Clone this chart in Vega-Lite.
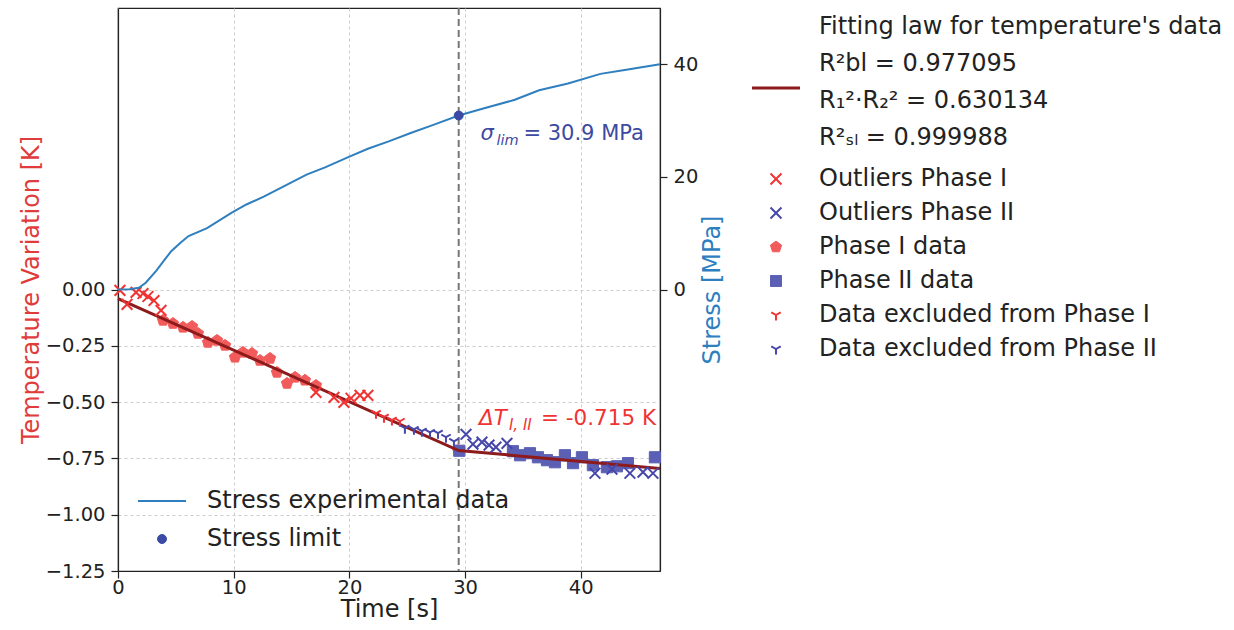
{
  "$schema": "https://vega.github.io/schema/vega-lite/v6.json",
  "width": 542,
  "height": 563,
  "autosize": {"type": "none"},
  "padding": {"left": 118, "top": 8, "right": 574, "bottom": 59},
  "background": "white",
  "config": {
    "font": "DejaVu Sans",
    "view": {"stroke": "#222222", "strokeWidth": 1.2},
    "axis": {
      "labelFont": "DejaVu Sans", "titleFont": "DejaVu Sans",
      "labelFontSize": 19.5, "titleFontSize": 24, "titleFontWeight": "normal",
      "labelColor": "#222222", "tickColor": "#222222", "domainColor": "#222222",
      "tickSize": 7, "tickWidth": 1.2, "domainWidth": 1.2,
      "grid": true, "gridColor": "#cccccc", "gridDash": [3, 3], "gridWidth": 1,
      "labelPadding": 6, "labelFlush": false
    },
    "legend": {"labelFont": "DejaVu Sans", "labelFontSize": 24, "labelColor": "#222222", "padding": 0}
  },
  "datasets": {
    "stress": [
      {"t": 0, "s": 0, "g": "Stress experimental data"},
      {"t": 1.0, "s": 0.05, "g": "Stress experimental data"},
      {"t": 1.8, "s": 0.3, "g": "Stress experimental data"},
      {"t": 2.4, "s": 1.2, "g": "Stress experimental data"},
      {"t": 3.3, "s": 3.3, "g": "Stress experimental data"},
      {"t": 4.0, "s": 5.2, "g": "Stress experimental data"},
      {"t": 4.6, "s": 6.8, "g": "Stress experimental data"},
      {"t": 5.4, "s": 8.3, "g": "Stress experimental data"},
      {"t": 6.1, "s": 9.5, "g": "Stress experimental data"},
      {"t": 7.7, "s": 10.9, "g": "Stress experimental data"},
      {"t": 9.8, "s": 13.6, "g": "Stress experimental data"},
      {"t": 11.1, "s": 15.1, "g": "Stress experimental data"},
      {"t": 12.6, "s": 16.5, "g": "Stress experimental data"},
      {"t": 14.2, "s": 18.2, "g": "Stress experimental data"},
      {"t": 16.3, "s": 20.4, "g": "Stress experimental data"},
      {"t": 17.9, "s": 21.7, "g": "Stress experimental data"},
      {"t": 20.0, "s": 23.6, "g": "Stress experimental data"},
      {"t": 21.6, "s": 25.0, "g": "Stress experimental data"},
      {"t": 23.4, "s": 26.3, "g": "Stress experimental data"},
      {"t": 25.3, "s": 27.8, "g": "Stress experimental data"},
      {"t": 27.2, "s": 29.2, "g": "Stress experimental data"},
      {"t": 29.45, "s": 30.9, "g": "Stress experimental data"},
      {"t": 31.5, "s": 32.1, "g": "Stress experimental data"},
      {"t": 34.3, "s": 33.7, "g": "Stress experimental data"},
      {"t": 36.4, "s": 35.4, "g": "Stress experimental data"},
      {"t": 38.9, "s": 36.6, "g": "Stress experimental data"},
      {"t": 41.7, "s": 38.3, "g": "Stress experimental data"},
      {"t": 43.8, "s": 39.0, "g": "Stress experimental data"},
      {"t": 46.85, "s": 40.0, "g": "Stress experimental data"}
    ],
    "slimit": [{"t": 29.45, "s": 30.9, "g": "Stress limit"}],
    "vline": [{"t": 29.45}],
    "annS": [{"t": 31.33, "s": 26.6}],
    "annT": [{"t": 31.2, "T": -0.603}],
    "fit": [
      {"t": 0, "T": -0.04, "g": "Fitting law for temperature's data|\u00a0R²bl = 0.977095|\u00a0R₁²·R₂² = 0.630134|\u00a0R²ₛₗ = 0.999988"},
      {"t": 29.45, "T": -0.715, "g": "Fitting law for temperature's data|\u00a0R²bl = 0.977095|\u00a0R₁²·R₂² = 0.630134|\u00a0R²ₛₗ = 0.999988"},
      {"t": 46.85, "T": -0.795, "g": "Fitting law for temperature's data|\u00a0R²bl = 0.977095|\u00a0R₁²·R₂² = 0.630134|\u00a0R²ₛₗ = 0.999988"}
    ],
    "o1": [
      {"t": 0.17, "T": -0.004, "g": "Outliers Phase I"},
      {"t": 0.78, "T": -0.066, "g": "Outliers Phase I"},
      {"t": 1.56, "T": -0.013, "g": "Outliers Phase I"},
      {"t": 2.16, "T": -0.018, "g": "Outliers Phase I"},
      {"t": 2.59, "T": -0.031, "g": "Outliers Phase I"},
      {"t": 3.11, "T": -0.049, "g": "Outliers Phase I"},
      {"t": 3.72, "T": -0.093, "g": "Outliers Phase I"},
      {"t": 17.11, "T": -0.457, "g": "Outliers Phase I"},
      {"t": 18.67, "T": -0.479, "g": "Outliers Phase I"},
      {"t": 19.53, "T": -0.501, "g": "Outliers Phase I"},
      {"t": 20.14, "T": -0.483, "g": "Outliers Phase I"},
      {"t": 20.92, "T": -0.47, "g": "Outliers Phase I"},
      {"t": 21.6, "T": -0.47, "g": "Outliers Phase I"}
    ],
    "o2": [
      {"t": 30.08, "T": -0.643, "g": "Outliers Phase II"},
      {"t": 30.68, "T": -0.687, "g": "Outliers Phase II"},
      {"t": 31.46, "T": -0.678, "g": "Outliers Phase II"},
      {"t": 32.07, "T": -0.691, "g": "Outliers Phase II"},
      {"t": 32.67, "T": -0.7, "g": "Outliers Phase II"},
      {"t": 33.62, "T": -0.683, "g": "Outliers Phase II"},
      {"t": 41.23, "T": -0.816, "g": "Outliers Phase II"},
      {"t": 42.7, "T": -0.798, "g": "Outliers Phase II"},
      {"t": 44.25, "T": -0.816, "g": "Outliers Phase II"},
      {"t": 45.38, "T": -0.811, "g": "Outliers Phase II"},
      {"t": 46.24, "T": -0.816, "g": "Outliers Phase II"}
    ],
    "p1": [
      {"t": 3.89, "T": -0.137, "g": "Phase I data"},
      {"t": 4.75, "T": -0.151, "g": "Phase I data"},
      {"t": 5.62, "T": -0.168, "g": "Phase I data"},
      {"t": 6.4, "T": -0.164, "g": "Phase I data"},
      {"t": 6.91, "T": -0.195, "g": "Phase I data"},
      {"t": 7.78, "T": -0.235, "g": "Phase I data"},
      {"t": 8.56, "T": -0.226, "g": "Phase I data"},
      {"t": 9.25, "T": -0.248, "g": "Phase I data"},
      {"t": 10.11, "T": -0.301, "g": "Phase I data"},
      {"t": 10.8, "T": -0.279, "g": "Phase I data"},
      {"t": 11.58, "T": -0.284, "g": "Phase I data"},
      {"t": 12.27, "T": -0.315, "g": "Phase I data"},
      {"t": 13.14, "T": -0.306, "g": "Phase I data"},
      {"t": 13.74, "T": -0.368, "g": "Phase I data"},
      {"t": 14.61, "T": -0.417, "g": "Phase I data"},
      {"t": 15.3, "T": -0.39, "g": "Phase I data"},
      {"t": 16.16, "T": -0.403, "g": "Phase I data"},
      {"t": 17.11, "T": -0.426, "g": "Phase I data"},
      {"t": 29.4, "T": -0.714, "g": "Phase I data"}
    ],
    "p2": [
      {"t": 29.5, "T": -0.716, "g": "Phase II data"},
      {"t": 34.14, "T": -0.718, "g": "Phase II data"},
      {"t": 34.75, "T": -0.736, "g": "Phase II data"},
      {"t": 35.61, "T": -0.727, "g": "Phase II data"},
      {"t": 36.3, "T": -0.745, "g": "Phase II data"},
      {"t": 37.08, "T": -0.758, "g": "Phase II data"},
      {"t": 37.77, "T": -0.767, "g": "Phase II data"},
      {"t": 38.63, "T": -0.736, "g": "Phase II data"},
      {"t": 39.33, "T": -0.771, "g": "Phase II data"},
      {"t": 40.1, "T": -0.745, "g": "Phase II data"},
      {"t": 41.05, "T": -0.78, "g": "Phase II data"},
      {"t": 42.26, "T": -0.789, "g": "Phase II data"},
      {"t": 43.13, "T": -0.785, "g": "Phase II data"},
      {"t": 44.08, "T": -0.771, "g": "Phase II data"},
      {"t": 46.41, "T": -0.745, "g": "Phase II data"}
    ],
    "e1": [
      {"t": 22.3, "T": -0.55, "g": "Data excluded from Phase I"},
      {"t": 22.99, "T": -0.567, "g": "Data excluded from Phase I"},
      {"t": 23.68, "T": -0.58, "g": "Data excluded from Phase I"},
      {"t": 24.37, "T": -0.585, "g": "Data excluded from Phase I"}
    ],
    "e2": [
      {"t": 24.8, "T": -0.616, "g": "Data excluded from Phase II"},
      {"t": 25.58, "T": -0.621, "g": "Data excluded from Phase II"},
      {"t": 26.27, "T": -0.629, "g": "Data excluded from Phase II"},
      {"t": 26.97, "T": -0.634, "g": "Data excluded from Phase II"},
      {"t": 27.66, "T": -0.638, "g": "Data excluded from Phase II"},
      {"t": 28.35, "T": -0.656, "g": "Data excluded from Phase II"},
      {"t": 29.04, "T": -0.674, "g": "Data excluded from Phase II"}
    ]
  },
  "encoding": {
    "x": {
      "field": "t", "type": "quantitative",
      "scale": {"domain": [0, 46.85], "nice": false, "zero": false},
      "axis": {"values": [0, 10, 20, 30, 40], "format": "d", "title": "Time [s]", "titleColor": "#222222", "labelPadding": 0, "titlePadding": 1}
    }
  },
  "layer": [
    {
      "encoding": {
        "y": {"field": "T", "type": "quantitative", "scale": {"domain": [-1.25, 1.25], "nice": false},
          "axis": {"orient": "left", "values": [0, -0.25, -0.5, -0.75, -1, -1.25], "format": ".2f", "title": "Temperature Variation [K]", "titleColor": "#e03c3c", "titlePadding": 2}},
        "fill": {"field": "g", "type": "nominal", "legend": null, "scale": {"domain": ["Outliers Phase I", "Outliers Phase II", "Phase I data", "Phase II data", "Data excluded from Phase I", "Data excluded from Phase II"], "range": ["transparent", "transparent", "#f25b5b", "#5b60b5", "transparent", "transparent"]}},
        "stroke": {"field": "g", "type": "nominal", "scale": {"domain": ["Fitting law for temperature's data|\u00a0R²bl = 0.977095|\u00a0R₁²·R₂² = 0.630134|\u00a0R²ₛₗ = 0.999988", "Outliers Phase I", "Outliers Phase II", "Phase I data", "Phase II data", "Data excluded from Phase I", "Data excluded from Phase II"], "range": ["#8e1b1b", "#f03333", "#4747aa", "#f25b5b", "#5b60b5", "#f03333", "#4747aa"]},
          "legend": {"orient": "none", "legendX": 646, "legendY": 68, "title": null, "labelExpr": "split(datum.label, '|')", "labelLimit": 800, "labelOffset": 31, "symbolSize": 110, "symbolStrokeWidth": 2, "symbolFillColor": "transparent", "symbolOpacity": 1, "rowPadding": 10, "labelFontSize": 24,
            "encode": {
              "symbols": {"update": {
                "shape": {"signal": "datum.index == 0 ? 'M-1,0L1,0M0,2.61' : datum.index <= 2 ? 'M-1,-1L1,1M-1,1L1,-1' : datum.index == 3 ? 'M0,-1L0.951,-0.309L0.588,0.809L-0.588,0.809L-0.951,-0.309Z' : datum.index == 4 ? 'square' : 'M0,0L0,1M0,0L-0.866,-0.5M0,0L0.866,-0.5'"},
                "size": {"signal": "datum.index == 0 ? 2304 : datum.index == 3 ? 140 : 120"},
                "fill": {"signal": "datum.index == 3 ? '#f25b5b' : datum.index == 4 ? '#5b60b5' : 'transparent'"},
                "strokeWidth": {"signal": "datum.index == 0 ? 3 : datum.index >= 3 && datum.index <= 4 ? 1 : 2"},
                "opacity": {"value": 1}
              }},
              "labels": {"update": {"lineHeight": {"value": 37}, "dy": {"signal": "datum.index == 0 ? -61 : 0"}}}
            }}},
        "shape": {"field": "g", "type": "nominal", "legend": null, "scale": {"domain": ["Outliers Phase I", "Outliers Phase II", "Phase I data", "Phase II data", "Data excluded from Phase I", "Data excluded from Phase II"], "range": ["M-1,-1L1,1M-1,1L1,-1", "M-1,-1L1,1M-1,1L1,-1", "M0,-1L0.951,-0.309L0.588,0.809L-0.588,0.809L-0.951,-0.309Z", "square", "M0,0L0,1M0,0L-0.866,-0.5M0,0L0.866,-0.5", "M0,0L0,1M0,0L-0.866,-0.5M0,0L0.866,-0.5"]}},
        "size": {"field": "g", "type": "nominal", "legend": null, "scale": {"type": "ordinal", "domain": ["Outliers Phase I", "Outliers Phase II", "Phase I data", "Phase II data", "Data excluded from Phase I", "Data excluded from Phase II"], "range": [115, 115, 140, 125, 120, 120]}}
      },
      "layer": [
        {
          "data": {"name": "vline"},
          "mark": {"type": "rule", "stroke": "#777777", "strokeWidth": 2, "strokeDash": [7, 4]},
          "encoding": {"y": null, "fill": null, "stroke": null, "shape": null, "size": null}
        },
        {"data": {"name": "p1"}, "mark": {"type": "point", "opacity": 1, "strokeWidth": 1}},
        {"data": {"name": "p2"}, "mark": {"type": "point", "opacity": 1, "strokeWidth": 1}},
        {
          "data": {"name": "fit"},
          "mark": {"type": "line", "strokeWidth": 3},
          "encoding": {"fill": null, "shape": null, "size": null}
        },
        {"data": {"name": "o1"}, "mark": {"type": "point", "opacity": 1, "strokeWidth": 2}},
        {"data": {"name": "o2"}, "mark": {"type": "point", "opacity": 1, "strokeWidth": 2}},
        {"data": {"name": "e1"}, "mark": {"type": "point", "opacity": 1, "strokeWidth": 2}},
        {"data": {"name": "e2"}, "mark": {"type": "point", "opacity": 1, "strokeWidth": 2}},
        {
          "data": {"name": "annT"},
          "mark": {"type": "text", "text": "ΔT", "align": "left", "baseline": "alphabetic", "fontSize": 21.5, "fontStyle": "italic", "color": "#f03333"},
          "encoding": {"fill": null, "stroke": null, "shape": null, "size": null}
        },
        {
          "data": {"name": "annT"},
          "mark": {"type": "text", "text": "I, II", "align": "left", "baseline": "alphabetic", "dx": 30, "dy": 5, "fontSize": 15, "fontStyle": "italic", "color": "#f03333"},
          "encoding": {"fill": null, "stroke": null, "shape": null, "size": null}
        },
        {
          "data": {"name": "annT"},
          "mark": {"type": "text", "text": "= -0.715 K", "align": "left", "baseline": "alphabetic", "dx": 62, "fontSize": 21.5, "color": "#f03333"},
          "encoding": {"fill": null, "stroke": null, "shape": null, "size": null}
        }
      ]
    },
    {
      "encoding": {
        "y": {"field": "s", "type": "quantitative", "scale": {"domain": [-50, 50], "nice": false},
          "axis": {"orient": "right", "values": [0, 20, 40], "format": "d", "title": "Stress [MPa]", "titleColor": "#2f7fbf", "titleAngle": 270, "titlePadding": 27}}
      },
      "layer": [
        {
          "data": {"name": "stress"},
          "mark": {"type": "line", "strokeWidth": 2},
          "encoding": {
            "stroke": {"field": "g", "type": "nominal", "scale": {"domain": ["Stress experimental data", "Stress limit"], "range": ["#2f7fbf", "#3b4ba5"]},
              "legend": {"orient": "none", "legendX": 32, "legendY": 481, "title": null, "labelLimit": 800, "labelOffset": 33, "symbolSize": 80, "symbolStrokeWidth": 2, "symbolFillColor": "transparent", "symbolOpacity": 1, "rowPadding": 14, "labelFontSize": 24,
                "encode": {"symbols": {"update": {
                  "shape": {"signal": "datum.index == 0 ? 'stroke' : 'circle'"},
                  "size": {"signal": "datum.index == 0 ? 2304 : 80"},
                  "fill": {"signal": "datum.index == 0 ? 'transparent' : '#3b4ba5'"},
                  "strokeWidth": {"signal": "datum.index == 0 ? 2 : 1"},
                  "opacity": {"value": 1}
                }}}}}
          }
        },
        {
          "data": {"name": "slimit"},
          "mark": {"type": "point", "opacity": 1, "strokeWidth": 1},
          "encoding": {
            "fill": {"field": "g", "type": "nominal", "legend": null, "scale": {"domain": ["Stress limit"], "range": ["#3b4ba5"]}},
            "stroke": {"field": "g", "type": "nominal"},
            "shape": {"field": "g", "type": "nominal", "legend": null, "scale": {"domain": ["Stress limit"], "range": ["circle"]}},
            "size": {"field": "g", "type": "nominal", "legend": null, "scale": {"type": "ordinal", "domain": ["Stress limit"], "range": [80]}}
          }
        },
        {
          "data": {"name": "annS"},
          "mark": {"type": "text", "text": "σ", "align": "left", "baseline": "alphabetic", "fontSize": 21, "fontStyle": "italic", "color": "#3d4aa0"}
        },
        {
          "data": {"name": "annS"},
          "mark": {"type": "text", "text": "lim", "align": "left", "baseline": "alphabetic", "dx": 16, "dy": 5, "fontSize": 14.5, "fontStyle": "italic", "color": "#3d4aa0"}
        },
        {
          "data": {"name": "annS"},
          "mark": {"type": "text", "text": "= 30.9 MPa", "align": "left", "baseline": "alphabetic", "dx": 43, "fontSize": 21, "color": "#3d4aa0"}
        }
      ]
    }
  ],
  "resolve": {"scale": {"y": "independent", "fill": "independent", "stroke": "independent", "shape": "independent", "size": "independent"}}
}
